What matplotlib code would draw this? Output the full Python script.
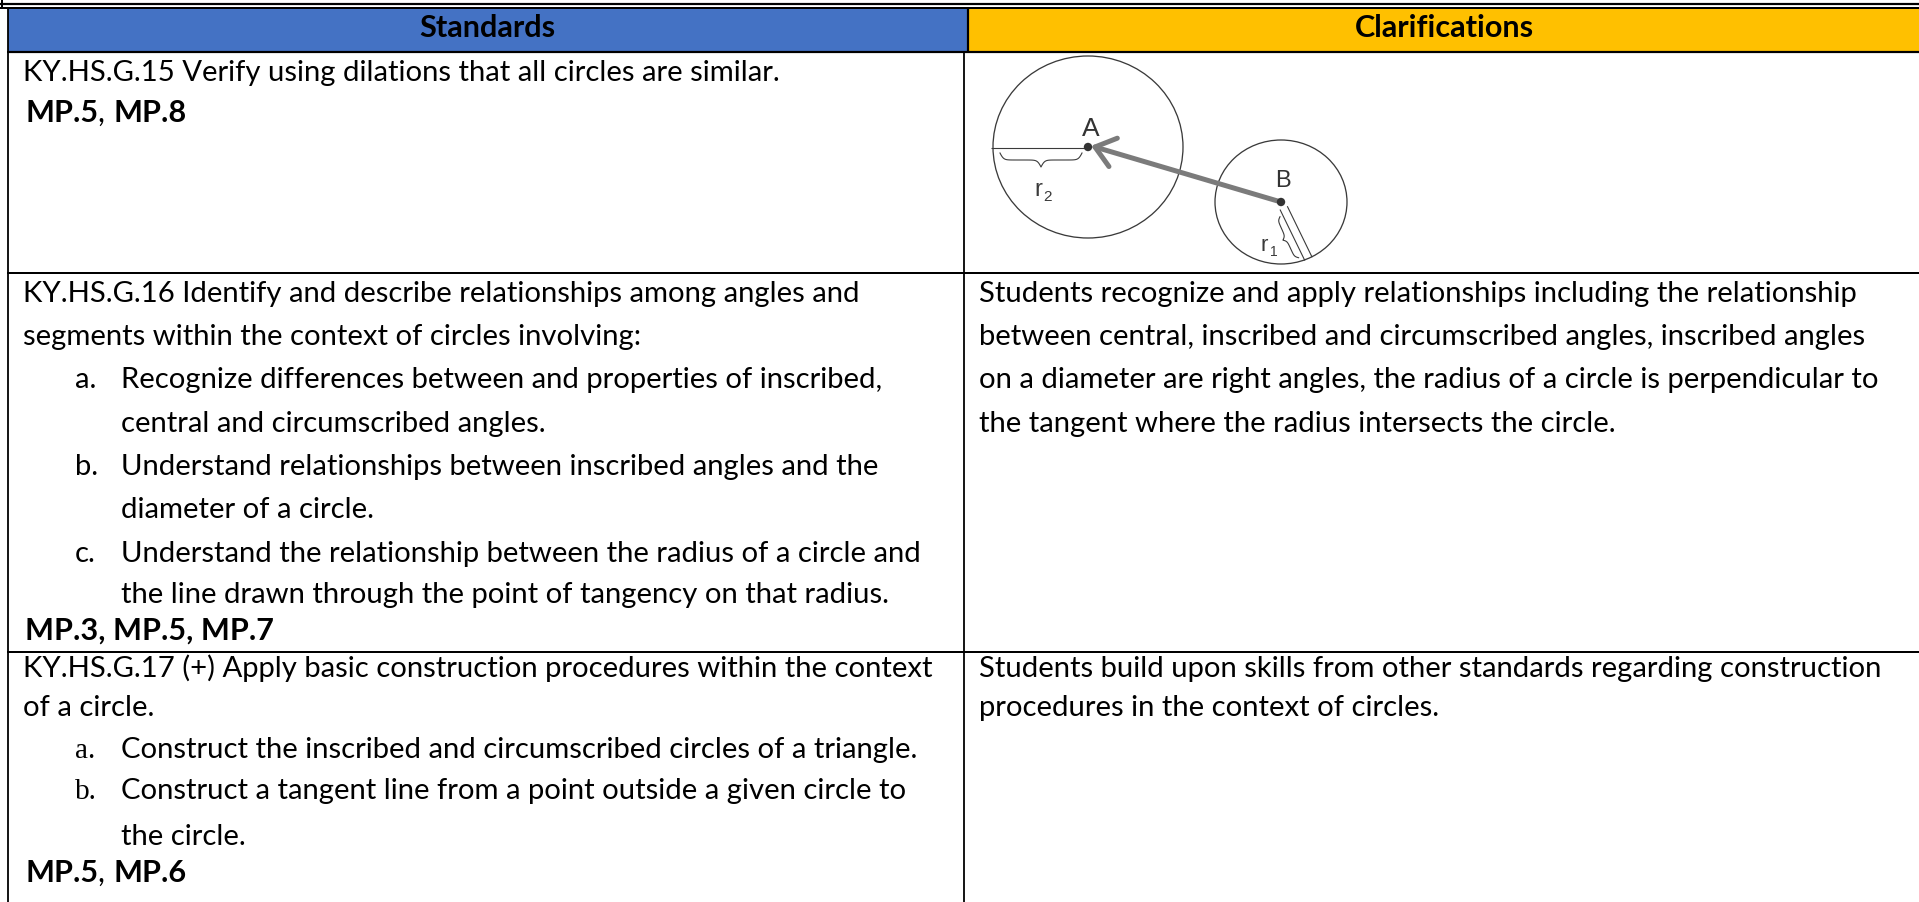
import matplotlib
matplotlib.use("Agg")
import matplotlib.pyplot as plt
import numpy as np
from matplotlib.patches import Rectangle, Ellipse, Circle

W, H = 1919, 902
BLUE = "#4472C4"
GOLD = "#FFC000"
INK = "#000000"
DIAG = "#3a3a3a"
ARROW = "#7b7b7b"
FONT = ["Lato", "DejaVu Sans"]

headers = ["Standards", "Clarifications"]

# left column, one entry per printed line: (kind, text)
std_g15 = [("p", "KY.HS.G.15 Verify using dilations that all circles are similar."),
           ("mp", "MP.5|, |MP.8")]
std_g16 = [("p", "KY.HS.G.16 Identify and describe relationships among angles and"),
           ("p", "segments within the context of circles involving:"),
           ("li", "a.", "Recognize differences between and properties of inscribed,"),
           ("cont", "central and circumscribed angles."),
           ("li", "b.", "Understand relationships between inscribed angles and the"),
           ("cont", "diameter of a circle."),
           ("li", "c.", "Understand the relationship between the radius of a circle and"),
           ("cont", "the line drawn through the point of tangency on that radius."),
           ("mp", "MP.3, MP.5, MP.7")]
std_g17 = [("p", "KY.HS.G.17 (+) Apply basic construction procedures within the context"),
           ("p", "of a circle."),
           ("li_serif", "a.", "Construct the inscribed and circumscribed circles of a triangle."),
           ("li_serif", "b.", "Construct a tangent line from a point outside a given circle to"),
           ("cont", "the circle."),
           ("mp", "MP.5|, |MP.6")]

clar_g16 = ["Students recognize and apply relationships including the relationship",
            "between central, inscribed and circumscribed angles, inscribed angles",
            "on a diameter are right angles, the radius of a circle is perpendicular to",
            "the tangent where the radius intersects the circle."]
clar_g17 = ["Students build upon skills from other standards regarding construction",
            "procedures in the context of circles."]

# baselines (pixels from top) for each printed line
base_g15 = [81, 122]
base_g16 = [302, 345, 388, 432, 475, 518, 562, 603, 640]
base_g17 = [677, 716, 758, 799, 845, 882]

# geometry of the circle sketch (pixels)
A_c, A_r = (1088, 147), (95, 91)
B_c, B_r = (1281, 202), (66, 62)
r1_angle = 65.6

fig = plt.figure(figsize=(W / 100, H / 100), dpi=100)
ax = fig.add_axes([0, 0, 1, 1])
ax.set_xlim(0, W)
ax.set_ylim(H, 0)
ax.axis("off")
renderer = fig.canvas.get_renderer()

PX = 0.72  # points per pixel at 100 dpi


def line(xs, ys, lw=1.8, color=INK, **kw):
    ax.plot(xs, ys, color=color, lw=lw * PX, solid_capstyle="butt", **kw)


# body font size fitted to a few reference line widths (pixels)
fit_lines = [(std_g16[0][1], 895), (std_g16[6][2], 837), (clar_g16[0], 851),
             (clar_g16[2], 924), (clar_g17[0], 885), (std_g16[7][1], 845)]
ratios = []
for txt, target in fit_lines:
    probe = ax.text(0, 0, txt, fontsize=20, family=FONT)
    ratios.append(target / probe.get_window_extent(renderer).width)
    probe.remove()
FS = 20 * float(np.mean(ratios)) * 0.97

# ---- frame -------------------------------------------------------------
line([0, W], [3.7, 3.7], lw=2.2)
line([0, W], [8.3, 8.3], lw=2.0)
line([1.5, 1.5], [0, 9], lw=2.0)
ax.add_patch(Rectangle((8, 9.3), 959, 42, fc=BLUE, ec="none"))
ax.add_patch(Rectangle((968, 9.3), W - 968, 42, fc=GOLD, ec="none"))
line([968, 968], [9.3, 52], lw=2.2)
line([7, W], [52, 52], lw=2.2)
line([7.5, 7.5], [9.3, H], lw=1.8)
line([964, 964], [52, H], lw=1.8)
line([7, W], [272.7, 272.7], lw=2.0)
line([7, W], [652, 652], lw=2.0)

for txt, xc in zip(headers, [487, 1444]):
    ax.text(xc, 37, txt, fontsize=FS * 1.05, family=FONT, weight="bold",
            ha="center", va="baseline", color=INK)


# ---- left column -------------------------------------------------------
def runs(x, y, parts, weights):
    for part, wt in zip(parts, weights):
        t = ax.text(x, y, part, fontsize=FS * 1.05, family=FONT, weight=wt,
                    va="baseline", color=INK)
        x += t.get_window_extent(renderer).width


def draw_cell(lines, bases):
    for ln, yb in zip(lines, bases):
        kind = ln[0]
        if kind == "p":
            ax.text(23, yb, ln[1], fontsize=FS, family=FONT, va="baseline", color=INK)
        elif kind == "cont":
            ax.text(121, yb, ln[1], fontsize=FS, family=FONT, va="baseline", color=INK)
        elif kind in ("li", "li_serif"):
            fam = ["Liberation Serif"] if kind == "li_serif" else FONT
            ax.text(75, yb, ln[1], fontsize=FS, family=fam, va="baseline", color=INK)
            ax.text(121, yb, ln[2], fontsize=FS, family=FONT, va="baseline", color=INK)
        elif kind == "mp":
            parts = ln[1].split("|")
            if len(parts) == 1:
                runs(25, yb, parts, ["bold"])
            else:
                runs(25, yb, parts, ["bold", "normal", "bold"])


draw_cell(std_g15, base_g15)
draw_cell(std_g16, base_g16)
draw_cell(std_g17, base_g17)

# ---- right column ------------------------------------------------------
for txt, yb in zip(clar_g16, base_g16):
    ax.text(979, yb, txt, fontsize=FS, family=FONT, va="baseline", color=INK)
for txt, yb in zip(clar_g17, base_g17):
    ax.text(979, yb, txt, fontsize=FS, family=FONT, va="baseline", color=INK)


# ---- circle sketch -----------------------------------------------------
def brace(p0, p1, n, depth, k=0.55):
    p0, p1, n = np.asarray(p0, float), np.asarray(p1, float), np.asarray(n, float)
    L = np.linalg.norm(p1 - p0)
    t = (p1 - p0) / L
    s = np.linspace(0, L / 2, 60)
    y = 1 / (1 + np.exp(-k * (s - s[0]))) + 1 / (1 + np.exp(-k * (s - s[-1])))
    y = (y - y[0]) / (y[-1] - y[0]) * depth
    sf = np.concatenate([s, L - s[::-1]])
    yf = np.concatenate([y, y[::-1]])
    pts = p0 + np.outer(sf, t) + np.outer(yf, n)
    ax.plot(pts[:, 0], pts[:, 1], color=DIAG, lw=1.1 * PX)


ax.add_patch(Ellipse(A_c, 2 * A_r[0], 2 * A_r[1], fc="none", ec=DIAG, lw=1.3 * PX))
ax.add_patch(Ellipse(B_c, 2 * B_r[0], 2 * B_r[1], fc="none", ec=DIAG, lw=1.3 * PX))

# r2: horizontal radius of A with brace
line([A_c[0] - A_r[0] - 2, A_c[0]], [A_c[1] + 1, A_c[1] + 1], lw=1.1, color=DIAG)
brace((A_c[0] - A_r[0] + 7, A_c[1] + 6), (A_c[0] - 6, A_c[1] + 6), (0, 1), 14)
ax.text(1038, 196, "r", fontsize=17, family=["Liberation Sans"], color=DIAG,
        ha="center", va="baseline")
ax.text(1048, 201, "2", fontsize=11, family=["Liberation Sans"], color=DIAG,
        ha="center", va="baseline")

# arrow from B to A
bx, by = B_c
tip = np.array([A_c[0] + 7, A_c[1]], float)
d = tip - np.array([bx, by], float)
u = d / np.linalg.norm(d)
line([bx, tip[0] - 2 * u[0]], [by, tip[1] - 2 * u[1]], lw=5.0, color=ARROW)
for sgn in (1, -1):
    ang = np.radians(38 * sgn)
    rot = np.array([[np.cos(ang), -np.sin(ang)], [np.sin(ang), np.cos(ang)]])
    w = tip - rot @ u * 24
    ax.plot([tip[0], w[0]], [tip[1], w[1]], color=ARROW, lw=5.0 * PX,
            solid_capstyle="round")

# r1: radius of B drawn as a thin double line, with brace
a = np.radians(r1_angle)
ur = np.array([np.cos(a), np.sin(a)])
nr = np.array([-np.sin(a), np.cos(a)])
edge = np.array([bx + B_r[0] * np.cos(a), by + B_r[1] * np.sin(a)])
for off in (-4, 4):
    p0 = np.array([bx, by]) + ur * 7 + nr * off
    p1 = edge + nr * off
    ax.plot([p0[0], p1[0]], [p0[1], p1[1]], color=DIAG, lw=1.1 * PX)
brace(np.array([bx, by]) + ur * 13 + nr * 7, np.array([bx, by]) + ur * 58 + nr * 7, nr, 7, k=0.7)
ax.text(1264, 251, "r", fontsize=16, family=["Liberation Sans"], color=DIAG,
        ha="center", va="baseline")
ax.text(1274, 256, "1", fontsize=10, family=["Liberation Sans"], color=DIAG,
        ha="center", va="baseline")

# centre points and labels
ax.add_patch(Circle(A_c, 4.2, fc="#333333", ec="none", zorder=5))
ax.add_patch(Circle(B_c, 4.2, fc="#333333", ec="none", zorder=5))
ax.text(A_c[0] + 3, A_c[1] - 11, "A", fontsize=19, family=["Liberation Sans"],
        color="#333333", ha="center", va="baseline")
ax.text(B_c[0] + 2, B_c[1] - 15, "B", fontsize=17, family=["Liberation Sans"],
        color="#333333", ha="center", va="baseline")

fig.savefig("out.png", dpi=100)
